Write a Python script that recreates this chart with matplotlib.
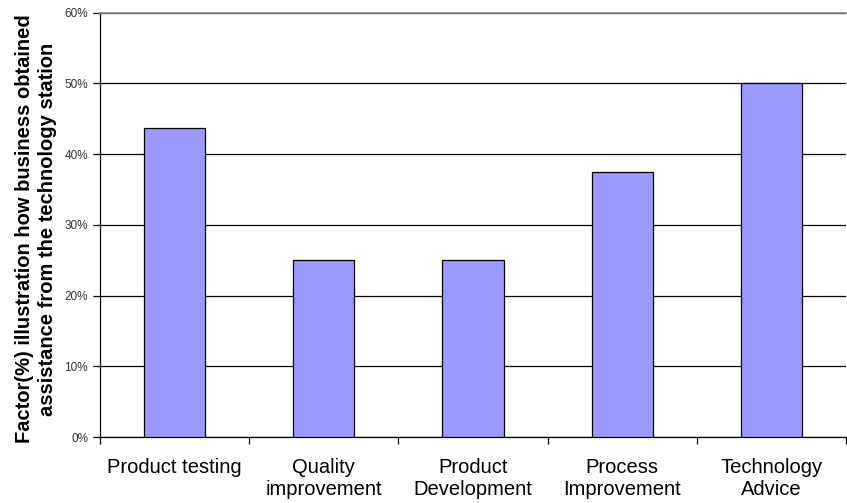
import numpy as np
import matplotlib
matplotlib.use("Agg")
import matplotlib.pyplot as plt
from matplotlib.ticker import PercentFormatter, FixedLocator

plt.rcParams['font.family'] = ['Liberation Sans', 'DejaVu Sans']

categories = ["Product testing", "Quality\nimprovement", "Product\nDevelopment",
              "Process\nImprovement", "Technology\nAdvice"]
shares = [43.75, 25.0, 25.0, 37.5, 50.0]
y_ticks = [0, 10, 20, 30, 40, 50, 60]

fig = plt.figure(figsize=(8.47, 5.03), dpi=100)
ax = fig.add_axes([0.118, 0.131, 0.881, 0.844])

x = np.arange(len(categories))
ax.bar(x, shares, width=0.41, color="#9999FF", edgecolor="black", linewidth=0.9, zorder=3)

ax.set_xlim(-0.5, len(categories) - 0.5)
ax.set_ylim(0, 60)
ax.set_yticks(y_ticks)
ax.yaxis.set_major_formatter(PercentFormatter(decimals=0))
ax.yaxis.grid(True, color="black", linewidth=0.9, zorder=0)

# category labels centered, tick marks between categories
ax.set_xticks(x)
ax.set_xticklabels(categories, fontsize=14.5, linespacing=1.2)
ax.tick_params(axis="x", length=0, pad=15)
ax.xaxis.set_minor_locator(FixedLocator(np.arange(-0.5, len(categories), 1.0)))
ax.tick_params(axis="x", which="minor", length=5, width=0.9, color="black")
ax.tick_params(axis="y", length=5, width=0.9, labelsize=8.5, colors="black", labelcolor="#333333")

ax.spines["right"].set_visible(False)
ax.spines["top"].set_color("#888888")
ax.spines["top"].set_linewidth(1.2)
ax.spines["left"].set_linewidth(0.9)
ax.spines["bottom"].set_linewidth(0.9)

ax.set_ylabel("Factor(%) illustration how business obtained\nassistance from the technology station",
              fontsize=14.5, fontweight="bold", linespacing=1.25)
ax.yaxis.set_label_coords(-0.058, 0.49)

fig.savefig("out.png", dpi=100)
